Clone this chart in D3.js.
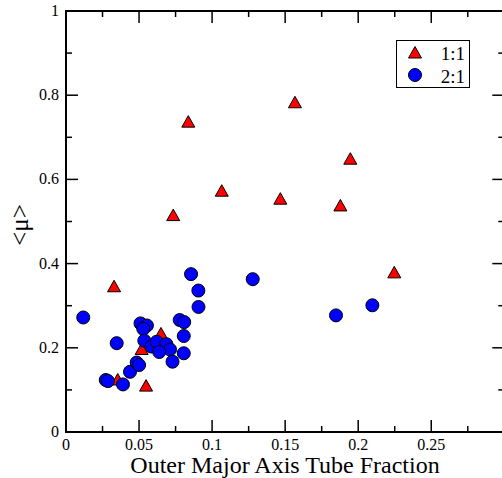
<!DOCTYPE html>
<html><head><meta charset="utf-8">
<script src="https://cdn.jsdelivr.net/npm/d3@7"></script>
<style>body{margin:0;background:#fff}svg{display:block}</style>
</head><body>
<svg id="c" width="502" height="478"></svg>
<script>
const series11X = [0.0837,0.1567,0.1946,0.1066,0.0734,0.1467,0.1878,0.2247,0.0329,0.0650,0.0518,0.0354,0.0548];
const series11Y = [0.736,0.782,0.648,0.572,0.514,0.553,0.537,0.378,0.345,0.233,0.196,0.1235,0.109];
const series21X = [0.0118,0.0272,0.0287,0.0347,0.0390,0.0438,0.0484,0.0500,0.0510,0.0554,0.0529,0.0536,0.0585,0.0621,0.0687,0.0712,0.0638,0.0729,0.0778,0.0809,0.0806,0.0806,0.0856,0.0906,0.0907,0.1278,0.1848,0.2097];
const series21Y = [0.272,0.1235,0.121,0.211,0.113,0.143,0.165,0.159,0.258,0.253,0.245,0.217,0.203,0.2145,0.2086,0.196,0.190,0.167,0.266,0.261,0.228,0.187,0.375,0.336,0.297,0.363,0.277,0.301];
const xTicks = [0,0.05,0.1,0.15,0.2,0.25];
const xTickLabels = ["0","0.05","0.1","0.15","0.2","0.25"];
const yTicks = [0,0.2,0.4,0.6,0.8,1];
const yTickLabels = ["0","0.2","0.4","0.6","0.8","1"];
const legendLabels = ["1:1","2:1"];
const xTitle = "Outer Major Axis Tube Fraction";
const yTitle = "<\u03bc>";

const svg = d3.select("#c");
const L = 66, R = 504.3, T = 11, B = 432;
const x = d3.scaleLinear().domain([0,0.3]).range([L,R]);
const y = d3.scaleLinear().domain([0,1]).range([B,T]);
const font = "'Liberation Serif','Times New Roman',serif";

const xMinor = d3.range(0,0.3001,0.025);
const yMinor = d3.range(0,1.0001,0.1);

// ticks (inward)
const gT = svg.append("g").attr("stroke","#000").attr("stroke-width",1.5);
xMinor.forEach((v,i)=>{
  const len = (i%2===0)?12:6;
  gT.append("line").attr("x1",x(v)).attr("x2",x(v)).attr("y1",B).attr("y2",B-len);
  gT.append("line").attr("x1",x(v)).attr("x2",x(v)).attr("y1",T).attr("y2",T+len);
});
yMinor.forEach((v,i)=>{
  const len = (i%2===0)?12:6;
  gT.append("line").attr("x1",L).attr("x2",L+len).attr("y1",y(v)).attr("y2",y(v));
  gT.append("line").attr("x1",R).attr("x2",R-len).attr("y1",y(v)).attr("y2",y(v));
});
// frame
svg.append("rect").attr("x",L).attr("y",T).attr("width",R-L).attr("height",B-T)
  .attr("fill","none").attr("stroke","#000").attr("stroke-width",2);

// tick labels
svg.append("g").selectAll("text").data(xTicks).join("text")
  .attr("x",d=>x(d)).attr("y",B+18).attr("text-anchor","middle")
  .attr("font-family",font).attr("font-size",16).text((d,i)=>xTickLabels[i]);
svg.append("g").selectAll("text").data(yTicks).join("text")
  .attr("x",L-7).attr("y",d=>y(d)+5).attr("text-anchor","end")
  .attr("font-family",font).attr("font-size",16).text((d,i)=>yTickLabels[i]);

// titles
svg.append("text").attr("x",285).attr("y",472.5).attr("text-anchor","middle")
  .attr("font-family",font).attr("font-size",24).text(xTitle);
svg.append("text").attr("transform","translate(28,225) rotate(-90)").attr("text-anchor","middle")
  .attr("font-family",font).attr("font-size",25).text(yTitle);

// markers
const tri = "M0,-6.5L6.5,5L-6.5,5Z";
svg.append("g").selectAll("path").data(series11X).join("path")
  .attr("d",tri).attr("transform",(d,i)=>`translate(${x(d)},${y(series11Y[i])})`)
  .attr("fill","#ff0000").attr("stroke","#000").attr("stroke-width",1);
svg.append("g").selectAll("circle").data(series21X).join("circle")
  .attr("cx",d=>x(d)).attr("cy",(d,i)=>y(series21Y[i])).attr("r",6.5)
  .attr("fill","#0000ff").attr("stroke","#000").attr("stroke-width",1);

// legend
const lg = svg.append("g");
lg.append("rect").attr("x",396.5).attr("y",40.5).attr("width",73).attr("height",47)
  .attr("fill","#fff").attr("stroke","#000").attr("stroke-width",1);
lg.append("path").attr("d",tri).attr("transform","translate(415,53)")
  .attr("fill","#ff0000").attr("stroke","#000").attr("stroke-width",1);
lg.append("circle").attr("cx",415).attr("cy",75).attr("r",6.5)
  .attr("fill","#0000ff").attr("stroke","#000").attr("stroke-width",1);
lg.selectAll("text").data(legendLabels).join("text")
  .attr("x",465).attr("y",(d,i)=>60+i*22.5).attr("text-anchor","end")
  .attr("font-family",font).attr("font-size",19).text(d=>d);
</script>
</body></html>
